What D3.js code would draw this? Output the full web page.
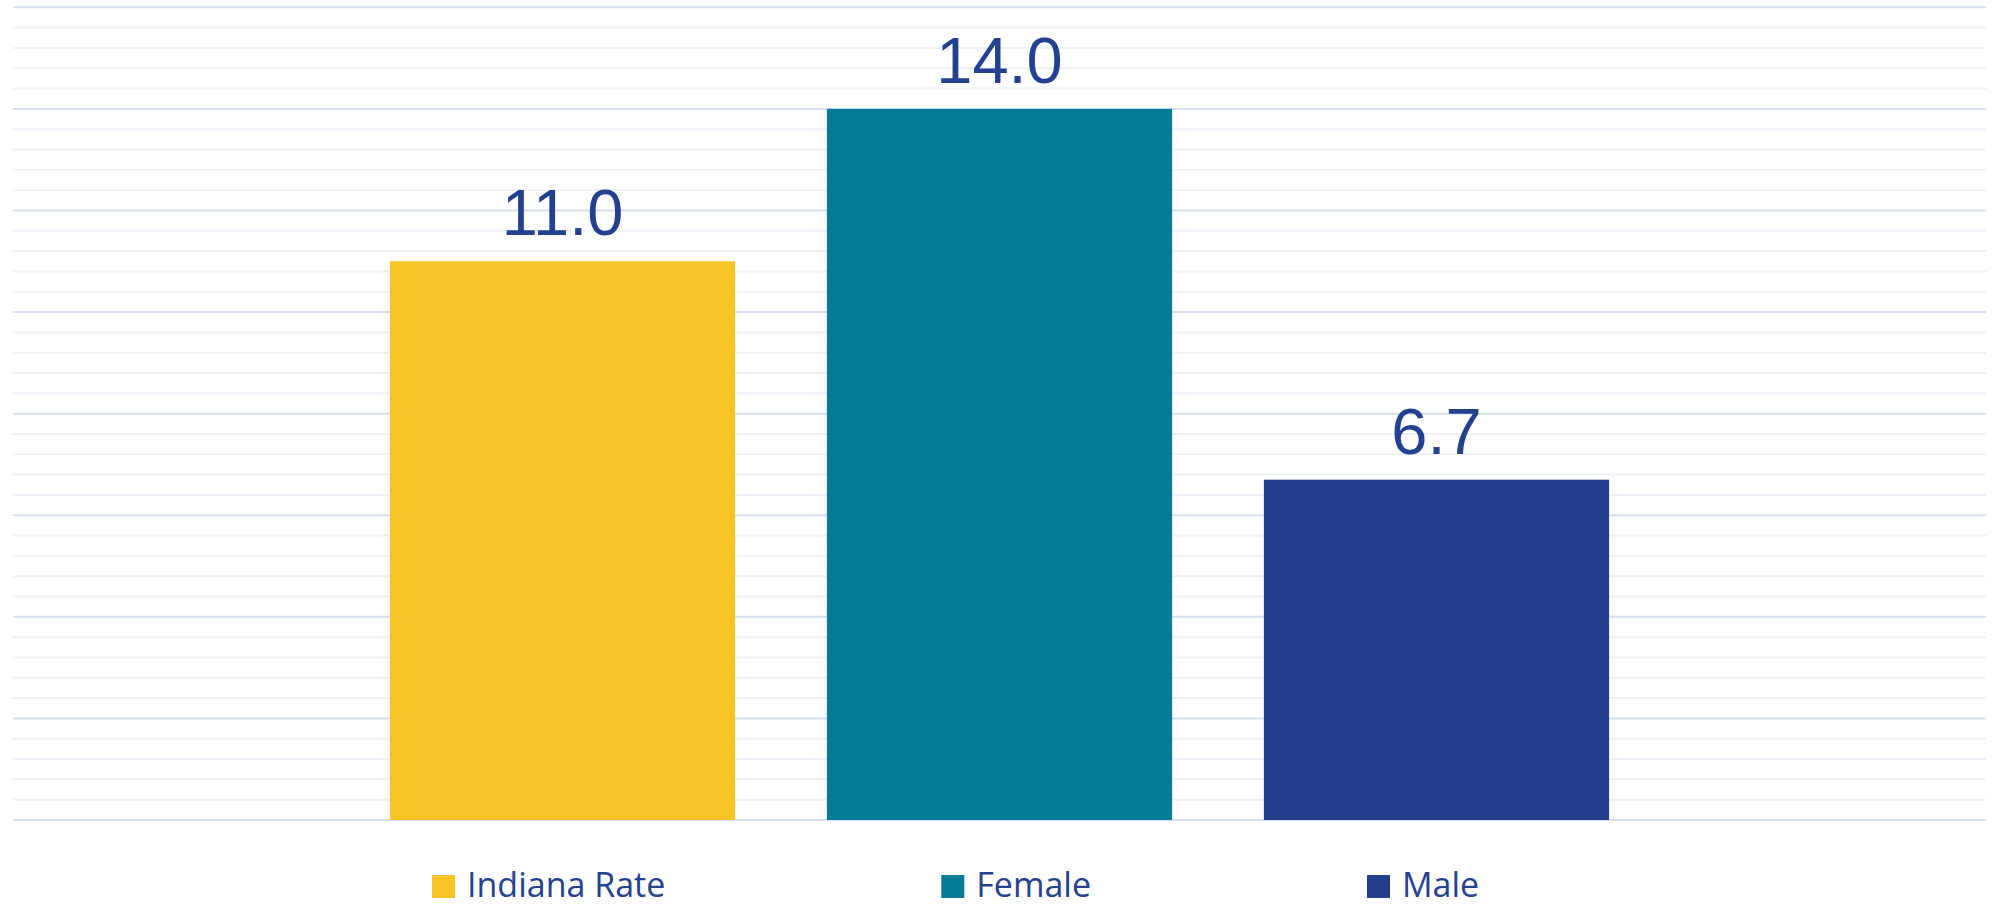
<!DOCTYPE html>
<html lang="en">
<head>
<meta charset="UTF-8">
<title>Rate by sex</title>
<style>
  html, body { margin: 0; padding: 0; background: #fff; }
  svg { display: block; }
</style>
</head>
<body>
<svg width="1996" height="907"></svg>

<script src="https://d3js.org/d3.v7.min.js"></script>
<script>
  // data
  var series = ["Indiana Rate", "Female", "Male"];
  var values = [11.0, 14.0, 6.7];
  var colors = ["#F7C325", "#067B97", "#233F8D"];
  var yMax = 16;

  var svg = d3.select("svg");
  var plot = {left: 13, right: 1986, top: 7.3, bottom: 820};

  var y = d3.scaleLinear().domain([0, yMax]).range([plot.bottom, plot.top]);
  var x = d3.scaleBand()
      .domain(series)
      .range([plot.left, plot.right])
      .paddingInner(0.21)
      .paddingOuter(0.8625);

  // grid: minor every 0.4, major every 2
  var gridTicks = d3.range(0, yMax / 0.4 + 1).map(function(i) { return +(i * 0.4).toFixed(1); });
  svg.append("g")
    .selectAll("line")
    .data(gridTicks)
    .enter()
    .append("line")
    .attr("x1", plot.left)
    .attr("x2", plot.right)
    .attr("y1", function(d) { return y(d); })
    .attr("y2", function(d) { return y(d); })
    .attr("stroke", function(d) { return Math.abs(d % 2) < 1e-6 || Math.abs(d % 2 - 2) < 1e-6 ? "#D8DFF3" : "#EFF1F9"; })
    .attr("stroke-width", 2);

  // bars
  svg.append("g")
    .selectAll("rect")
    .data(values)
    .enter()
    .append("rect")
    .attr("x", function(d, i) { return x(series[i]); })
    .attr("width", x.bandwidth())
    .attr("y", function(d) { return y(d); })
    .attr("height", function(d) { return y(0) - y(d); })
    .attr("fill", function(d, i) { return colors[i]; });

  // value labels
  svg.append("g")
    .selectAll("text")
    .data(values)
    .enter()
    .append("text")
    .attr("x", function(d, i) { return x(series[i]) + x.bandwidth() / 2; })
    .attr("y", function(d) { return y(d) - 26; })
    .attr("text-anchor", "middle")
    .attr("font-family", "'Liberation Sans', Arial, sans-serif")
    .attr("font-size", 65)
    .attr("fill", "#23418F")
    .text(function(d) { return d.toFixed(1); });

  // legend (kept a little above the bottom edge so descenders fit)
  var legend = svg.append("g").attr("transform", "translate(432,0)");
  var lx = 0;
  series.forEach(function(s, i) {
    var item = legend.append("g").attr("transform", "translate(" + lx + ",0)");
    item.append("rect")
      .attr("x", 0).attr("y", 875)
      .attr("width", 23).attr("height", 23)
      .attr("fill", colors[i]);
    var t = item.append("text")
      .attr("x", 35)
      .attr("y", 897)
      .attr("font-family", "'Open Sans', 'Noto Sans', sans-serif")
      .attr("font-size", 34)
      .attr("fill", "#25408F")
      .text(s);
    lx += 35 + t.node().getComputedTextLength() + 276;
  });
</script>
</body>
</html>
